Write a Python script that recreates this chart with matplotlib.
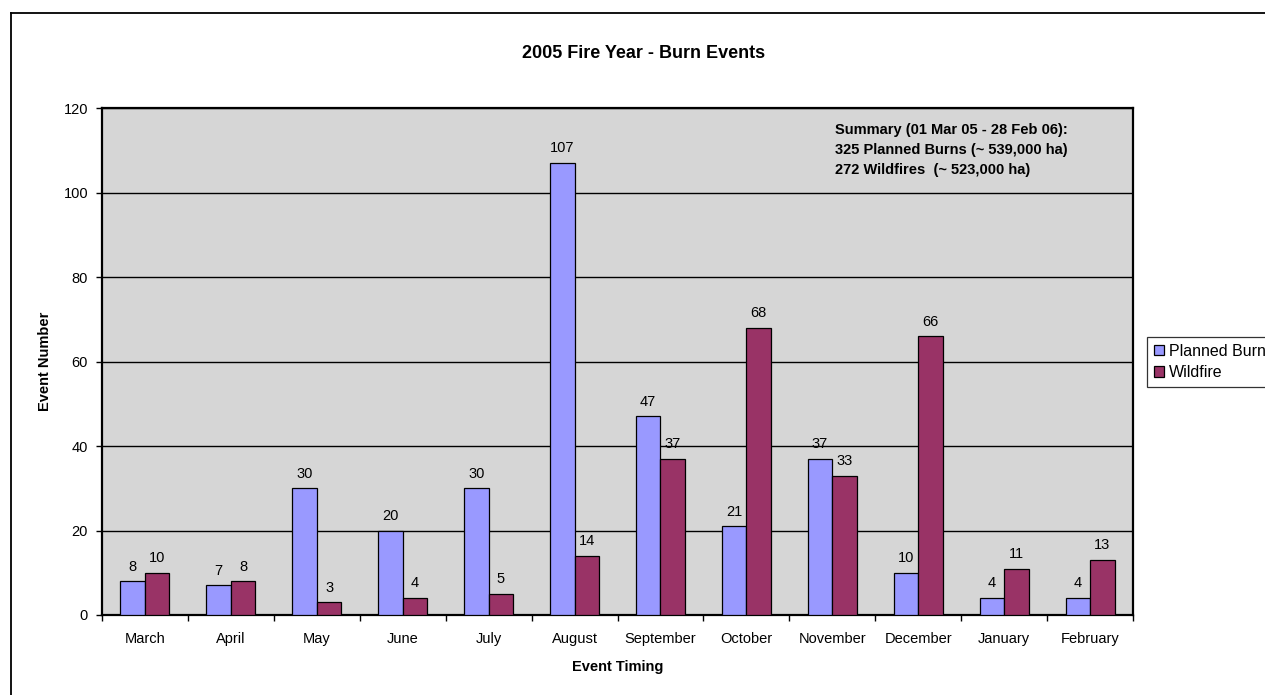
import matplotlib
matplotlib.use("Agg")
import matplotlib.pyplot as plt
from matplotlib.lines import Line2D
import numpy as np

plt.rcParams['font.family'] = ['Liberation Sans', 'DejaVu Sans']

months = ["March", "April", "May", "June", "July", "August", "September",
          "October", "November", "December", "January", "February"]
planned = [8, 7, 30, 20, 30, 107, 47, 21, 37, 10, 4, 4]
wildfire = [10, 8, 3, 4, 5, 14, 37, 68, 33, 66, 11, 13]
summary_lines = ["Summary (01 Mar 05 - 28 Feb 06):",
                 "325 Planned Burns (~ 539,000 ha)",
                 "272 Wildfires  (~ 523,000 ha)"]

fig = plt.figure(figsize=(12.65, 6.95), dpi=100)
ax = fig.add_axes([102/1265, 80/695, 1031/1265, 507/695])
ax.set_facecolor("#d6d6d6")

# outer chart border (left + top only visible)
fig.add_artist(Line2D([11/1265, 11/1265], [0, 1 - 13/695], color="black", lw=1.3))
fig.add_artist(Line2D([11/1265, 1], [1 - 13/695, 1 - 13/695], color="black", lw=1.3))

x = np.arange(len(months))
w = 0.285
b1 = ax.bar(x - w/2, planned, w, color="#9999ff", edgecolor="black", lw=0.9,
            label="Planned Burn", zorder=3)
b2 = ax.bar(x + w/2, wildfire, w, color="#993366", edgecolor="black", lw=0.9,
            label="Wildfire", zorder=3)
for bars, vals in ((b1, planned), (b2, wildfire)):
    for r, v in zip(bars, vals):
        ax.text(r.get_x() + r.get_width()/2, v + 1.8, str(v), ha="center",
                va="bottom", fontsize=10.5)

ax.set_xlim(-0.5, len(months) - 0.5)
ax.set_ylim(0, 120)
ax.set_yticks(range(0, 121, 20))
ax.set_xticks(np.arange(len(months) + 1) - 0.5)
ax.set_xticklabels([])
ax.set_xticks(x, minor=True)
ax.set_xticklabels(months, minor=True)
ax.tick_params(axis="x", which="major", length=4, width=1, direction="out")
ax.tick_params(axis="x", which="minor", length=0, pad=12, labelsize=10.5)
ax.tick_params(axis="y", length=4, width=1, direction="out", labelsize=10.5, pad=6)
ax.yaxis.grid(True, color="black", lw=1, zorder=1)
ax.set_axisbelow(True)
for s in ax.spines.values():
    s.set_linewidth(1.6)
    s.set_color("black")

ax.set_xlabel("Event Timing", fontsize=10.5, fontweight="bold", labelpad=10)
ax.set_ylabel("Event Number", fontsize=10.5, fontweight="bold", labelpad=8)
fig.text(644/1265, 1 - 53/695, "2005 Fire Year - Burn Events", ha="center",
         va="center", fontsize=13, fontweight="bold")

ax.text(0.711, 0.97, "\n".join(summary_lines), transform=ax.transAxes,
        ha="left", va="top", fontsize=10.5, fontweight="bold", linespacing=1.55)

leg = fig.legend(loc="center left", bbox_to_anchor=(1147/1265, 1 - 362/695),
                 frameon=True, fancybox=False, edgecolor="black", fontsize=11.5,
                 handlelength=0.6, handleheight=0.6, handletextpad=0.3,
                 borderpad=0.45, labelspacing=0.4, borderaxespad=0)
leg.get_frame().set_linewidth(0.9)

fig.savefig("out.png", dpi=100)
